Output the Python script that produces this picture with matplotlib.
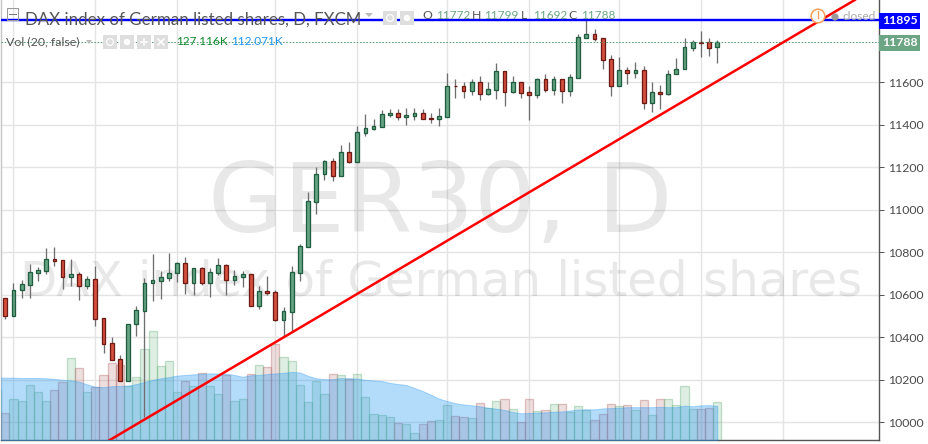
import numpy as np
import matplotlib
matplotlib.use("Agg")
import matplotlib.pyplot as plt
from matplotlib.patches import Rectangle, Circle

# ---- data ----
opens = [10584,10502,10620,10648,10704,10714,10767,10762,10685,10696,10643,10673,10489,10372,10296,10196,10460,10525,10653,10667,10681,10700,10748,10653,10725,10657,10703,10739,10671,10685,10696,10549,10616,10612,10483,10521,10704,
         10827,11038,11166,11228,11161,11271,11227,11363,11382,11391,11448,11454,11438,11443,11454,11431,11429,11438,11583,11581,11561,11600,11547,11565,11652,11556,11600,11553,11542,11614,11565,11614,11561,
         11622,11810,11826,11807,11708,11580,11656,11645,11656,11504,11553,11547,11638,11661,11763,11788,11788,11765]
highs = [10584,10654,10670,10745,10731,10820,10825,10762,10769,10709,10687,10736,10489,10402,10317,10461,10547,10679,10792,10711,10797,10755,10778,10725,10729,10725,10773,10745,10715,10712,10696,10642,10689,10620,10541,10734,10839,
         11084,11202,11235,11242,11305,11319,11395,11451,11427,11470,11475,11475,11479,11479,11475,11456,11479,11644,11616,11602,11616,11630,11602,11691,11652,11630,11600,11583,11619,11639,11630,11614,11638,
         11827,11893,11851,11807,11727,11719,11671,11696,11675,11602,11587,11656,11713,11809,11799,11842,11809,11799]
lows = [10485,10502,10585,10585,10665,10698,10736,10627,10643,10573,10627,10453,10326,10292,10196,10196,10406,10027,10571,10580,10667,10659,10604,10599,10646,10590,10693,10599,10646,10635,10549,10535,10599,10477,10406,10431,10665,
        10827,10980,11140,11137,11161,11222,11227,11347,11373,11391,11438,11424,11401,11420,11427,11410,11395,11438,11528,11528,11542,11518,11542,11523,11490,11551,11528,11424,11528,11556,11542,11504,11537,
        11622,11810,11796,11660,11533,11580,11594,11622,11476,11462,11476,11542,11638,11661,11749,11721,11725,11692]
closes = [10502,10621,10649,10706,10717,10767,10761,10685,10696,10643,10673,10488,10370,10295,10196,10461,10527,10654,10668,10682,10701,10750,10653,10725,10656,10706,10739,10671,10687,10696,10549,10616,10610,10483,10522,10706,10828,
          11040,11167,11228,11161,11271,11227,11365,11384,11393,11449,11454,11438,11445,11454,11429,11427,11440,11581,11580,11561,11600,11547,11567,11652,11556,11600,11551,11542,11614,11565,11614,11561,11624,
          11813,11826,11804,11707,11580,11656,11645,11656,11504,11553,11547,11638,11661,11765,11788,11787,11763,11788]

# volume in thousands; the first bar is the one cut by the left edge
volume = [165,90,135,128,181,158,128,164,191,270,237,158,174,214,253,247,179,207,299,358,243,260,158,194,178,220,178,151,214,128,135,217,247,240,316,273,260,181,127,
          196,153,219,216,203,219,144,88,84,78,58,52,25,55,65,68,117,81,78,75,124,107,130,137,104,61,137,98,101,121,121,94,114,101,68,88,121,114,117,101,134,84,137,137,117,180,104,104,107,127]
vol_ma = [206,206,206,205,205,205,204,202,199,197,193,184,176,175,178,179,180,185,192,199,204,208,213,215,217,219,220,220,219,215,209,214,215,218,220,222,225,223,212,
          204,201,201,205,204,203,199,197,195,189,185,182,172,162,150,137,129,122,118,115,112,107,104,100,93,89,90,91,92,94,95,98,101,102,102,105,106,107,109,109,109,109,110,109,109,114,112,115,116,113]

price_ticks = [10000,10200,10400,10600,10800,11000,11200,11400,11600]
vgrid_idx = [1,11,21,33,43,54,64,75,85,95]
resistance = 11895
last_close = 11788
trend_x = [12.71,103.8]
trend_y = [9915,11987]

GREEN, GREEN_E = '#66a583', '#1f5c40'
RED, RED_E = '#d5503e', '#6e1a14'
PX = 0.72
F = 'Lato'

fig = plt.figure(figsize=(9.29,4.44), dpi=100, facecolor='white')
ax = fig.add_axes([1/929, (444-440.3)/444, 878/929, 440.3/444])
xlim = (-0.525, 106.76)
ylim = (9915, 11987)
ax.set_xlim(xlim); ax.set_ylim(ylim)

# volume axis
vx = np.arange(len(volume)) - 1
axv = ax.twinx()
axv.set_ylim(0, 440.3/0.304)
axv.set_yticks([]); axv.patch.set_visible(False)
for s in axv.spines.values():
    s.set_visible(False)

ax.spines['top'].set_visible(False)
ax.spines['bottom'].set_color('#555555'); ax.spines['bottom'].set_linewidth(1.4*PX)
ax.spines['left'].set_color('#c4c4c4'); ax.spines['left'].set_linewidth(1.4*PX)
ax.spines['right'].set_color('#555555'); ax.spines['right'].set_linewidth(1.4*PX)
ax.yaxis.tick_right()
ax.set_yticks(price_ticks)
ax.set_yticklabels([str(t) for t in price_ticks], fontsize=8.8, color='#4a4a4a', family=F)
ax.tick_params(axis='y', length=3.5, width=PX, color='#555555', pad=3)
ax.set_xticks(vgrid_idx); ax.set_xticklabels([])
ax.tick_params(axis='x', length=0)
ax.grid(True, color='#e4e4e4', linewidth=1.4*PX)
ax.set_axisbelow(True)

# watermark
wm = dict(color='black', alpha=0.09, ha='center', va='baseline', zorder=2, family='DejaVu Sans', transform=fig.transFigure)
ax.text(440/929, 1-232/444, 'GER30, D', fontsize=70, **wm)
ax.text(441/929, 1-296/444, 'DAX index of German listed shares', fontsize=34.8, **wm)

# volume bars
for x, v in zip(vx, volume):
    up = closes[x] >= opens[x] if x >= 0 else True
    fc = (0.42,0.70,0.50,0.22) if up else (0.70,0.42,0.42,0.22)
    ec = (0.42,0.70,0.50,0.40) if up else (0.70,0.42,0.42,0.40)
    axv.bar(x, v, width=1.0, facecolor=fc, edgecolor=ec, linewidth=1.3*PX, zorder=3)
axv.fill_between(vx, 0, vol_ma, color='#2196f3', alpha=0.34, linewidth=PX, zorder=4)

# candles on a third layer above the volume
axc = fig.add_axes(ax.get_position(), sharex=ax, sharey=ax)
axc.patch.set_visible(False); axc.axis('off')
xs = np.arange(len(opens))
axc.vlines(xs, lows, highs, color='#6e6e6e', linewidth=1.3*PX, zorder=5)
for x, o, c in zip(xs, opens, closes):
    up = c >= o
    axc.bar(x, abs(c-o), bottom=min(o,c), width=0.46, facecolor=GREEN if up else RED,
            edgecolor=GREEN_E if up else RED_E, linewidth=1.3*PX, zorder=6)

# drawn lines
axc.axhline(last_close, color='#5f9f7c', linewidth=PX, linestyle=(0,(1.6,1.6)), zorder=7)
axc.axhline(resistance, color='#0000ff', linewidth=2.4*PX, zorder=7)
axc.plot(trend_x, trend_y, color='#ff0000', linewidth=2.5*PX, zorder=8)
axc.set_xlim(xlim); axc.set_ylim(ylim)

# overlay in pixel units for header, icons, price tags
ov = fig.add_axes([0,0,1,1]); ov.set_xlim(0,929); ov.set_ylim(444,0); ov.axis('off'); ov.patch.set_visible(False)
ov.add_patch(Rectangle((7,8),11.5,12,fc='none',ec='#9a9a9a',lw=PX))
ov.plot([9.5,16],[14,14],color='#777777',lw=PX)
ov.text(25,19.5,'DAX index of German listed shares, D, FXCM',fontsize=12.2,color='#555555',family=F,va='center')
ov.text(6,42,'Vol (20, false)',fontsize=8.9,color='#555555',family=F,va='center')
ov.text(176,41.5,'127.116K',fontsize=8.5,color='#108a2c',family=F,va='center')
ov.text(231,41.5,'112.071K',fontsize=8.5,color='#2196f3',family=F,va='center')
# carets
ov.fill([365,373,369],[13,13,17],color='#bbbbbb',lw=0)
ov.fill([86,92,89],[40,40,44],color='#bbbbbb',lw=0)
# icon boxes
for x0 in [103,120,137,154]:
    ov.add_patch(Rectangle((x0,35),14,14,fc='#dedede',ec='none'))
ov.add_patch(Circle((110,42),3.4,fc='none',ec='white',lw=1.2*PX))
ov.add_patch(Circle((127,42),3.2,fc='white',ec='none'))
ov.plot([141,147],[42,42],color='white',lw=1.5*PX); ov.plot([144,144],[39,45],color='white',lw=1.5*PX)
ov.plot([158,164],[39,45],color='white',lw=1.5*PX); ov.plot([158,164],[45,39],color='white',lw=1.5*PX)
for x0 in [383,400]:
    ov.add_patch(Rectangle((x0,11),14,14,fc='#dedede',ec='none'))
ov.add_patch(Circle((390,18),3.4,fc='none',ec='white',lw=1.2*PX))
ov.add_patch(Circle((407,18),3.2,fc='white',ec='none'))
for lab,lx,val,vx0 in [('O',422,'11772',436),('H',472,'11799',484),('L',521,'11692',533),('C',568,'11788',581)]:
    ov.text(lx,15.5,lab,fontsize=8.8,color='#555555',family=F,va='center')
    ov.text(vx0,15.5,val,fontsize=8.5,color='#6ba583',family=F,va='center')
ov.add_patch(Circle((818,16),6.8,fc='white',ec='#f5a25d',lw=1.6*PX,zorder=3))
ov.plot([818,818],[11,18],color='#f5a25d',lw=1.4*PX,zorder=4)
ov.add_patch(Circle((835,17),3.6,fc='#9a9a9a',ec='none'))
ov.text(843,16,'closed',fontsize=8.6,color='#aaaaaa',family=F,va='center')
ov.add_patch(Rectangle((879,13),41,16,fc='#0000ff',ec='none'))
ov.text(900,21,str(resistance),fontsize=8.8,color='white',family=F,weight='bold',ha='center',va='center')
ov.add_patch(Rectangle((879,35),41,16,fc='#6ba583',ec='none'))
ov.text(900,43,str(last_close),fontsize=8.8,color='white',family=F,weight='bold',ha='center',va='center')

fig.savefig('out.png', dpi=100)
